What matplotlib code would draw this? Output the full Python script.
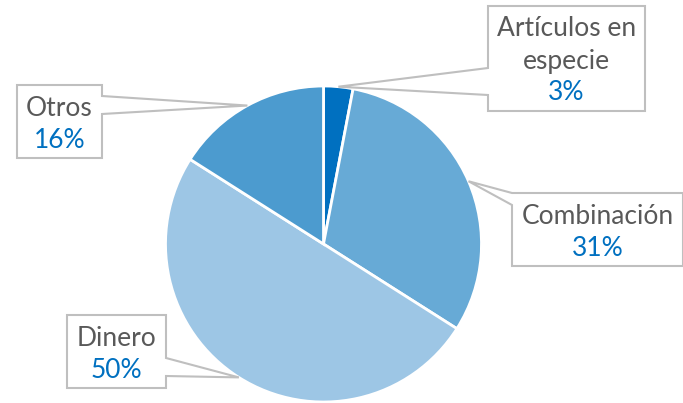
import numpy as np
import matplotlib
matplotlib.use('Agg')
import matplotlib.pyplot as plt
from matplotlib.patches import Polygon

plt.rcParams['font.family'] = ['Lato', 'DejaVu Sans']

categories = ['Artículos en\nespecie', 'Combinación', 'Dinero', 'Otros']
values = [3, 31, 50, 16]
colors = ['#0070C0', '#67AAD6', '#9DC6E5', '#4C9BCF']

W, H = 683, 403
CX, CY, R = 323.5, 244, 158

# callout boxes in pixel coords (top-down): x0, y0, x1, y1, side, base y range
boxes = [
    (488, 6, 645, 111, 'left', (68, 95)),
    (512, 193, 683, 266, 'left', (193, 205)),
    (67, 315, 166, 388, 'right', (358, 376)),
    (17, 85, 102, 158, 'right', (96, 114)),
]


def py(y):
    return H - y


def callout(ax, box, tip):
    x0, y0, x1, y1, side, (ba, bb) = box
    if side == 'left':
        pts = [(x0, y0), (x1, y0), (x1, y1), (x0, y1), (x0, bb), tip, (x0, ba)]
    else:
        pts = [(x0, y0), (x1, y0), (x1, ba), tip, (x1, bb), (x1, y1), (x0, y1)]
    pts = [(x, py(y)) if (x, y) != tip else tip for x, y in pts]
    ax.add_patch(Polygon(pts, closed=True, facecolor='white', edgecolor='#BFBFBF',
                         linewidth=1.5, zorder=3))


fig = plt.figure(figsize=(W / 100, H / 100), dpi=100)
ax = fig.add_axes([0, 0, 1, 1])

wedges, _ = ax.pie(values, colors=colors, startangle=90, counterclock=False,
                   center=(CX, py(CY)), radius=R,
                   wedgeprops=dict(edgecolor='white', linewidth=2))

for w, box, cat, v in zip(wedges, boxes, categories, values):
    mid = np.deg2rad((w.theta1 + w.theta2) / 2)
    tip = (CX + R * np.cos(mid), py(CY) + R * np.sin(mid))
    callout(ax, box, tip)
    x0, y0, x1, y1 = box[:4]
    lines = cat.split('\n')
    n = len(lines) + 1
    cx = (x0 + x1) / 2
    cy = (y0 + y1) / 2 + 2.5
    step = 32
    top = cy - step * (n - 1) / 2
    for i, line in enumerate(lines):
        ax.text(cx, py(top + i * step), line, ha='center', va='center',
                fontsize=19, color='#595959', zorder=4)
    ax.text(cx, py(top + (n - 1) * step), f'{v}%', ha='center', va='center',
            fontsize=19, color='#0070C0', zorder=4)

ax.set_xlim(0, W)
ax.set_ylim(0, H)
ax.set_aspect('auto')
ax.axis('off')

fig.savefig('out.png', dpi=100)
